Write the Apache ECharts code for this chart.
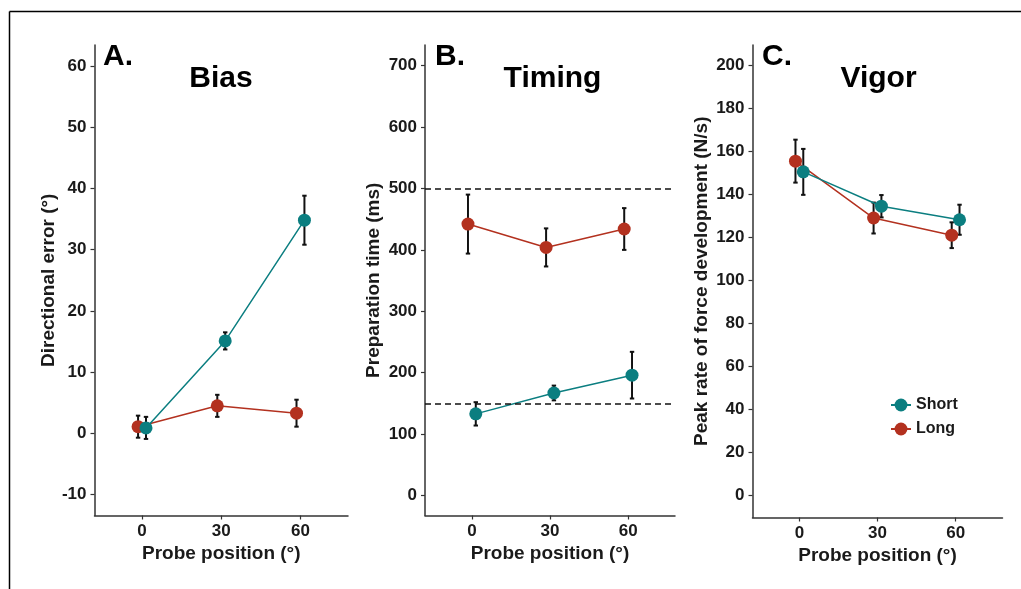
<!DOCTYPE html>
<html>
<head>
<meta charset="utf-8">
<script src="https://cdn.jsdelivr.net/npm/echarts@6/dist/echarts.min.js"></script>
<style>
html,body{margin:0;padding:0;background:#fff;}
#chart{width:1021px;height:589px;}
</style>
</head>
<body>
<div id="chart"></div>
<script>
// ---- data ----
const positions = [0, 30, 60];
const xTicks = [0, 30, 60];
const groups = ['Short', 'Long'];

const biasShort = [0.9, 15.1, 34.8];
const biasShortErr = [1.8, 1.4, 4.0];
const biasLong = [1.1, 4.5, 3.3];
const biasLongErr = [1.8, 1.8, 2.2];

const timingShort = [133, 167, 196];
const timingShortErr = [19, 12, 38];
const timingLong = [442, 404, 434];
const timingLongErr = [48, 31, 34];
const timingRefLines = [500, 150];

const vigorShort = [150.5, 134.5, 128.2];
const vigorShortErr = [10.7, 5.2, 7.0];
const vigorLong = [155.5, 129.0, 121.0];
const vigorLongErr = [10.0, 7.2, 6.0];

const biasTicks = [-10, 0, 10, 20, 30, 40, 50, 60];
const timingTicks = [0, 100, 200, 300, 400, 500, 600, 700];
const vigorTicks = [0, 20, 40, 60, 80, 100, 120, 140, 160, 180, 200];

const panelLetters = ['A.', 'B.', 'C.'];
const panelTitles = ['Bias', 'Timing', 'Vigor'];
const yNames = ['Directional error (°)', 'Preparation time (ms)', 'Peak rate of force development (N/s)'];
const xName = 'Probe position (°)';

// ---- styles ----
const COL = { Short: '#0b7e80', Long: '#b3311f' };
const DODGE = { Short: 1.5, Long: -1.5 };
const FONT = '"Liberation Sans", Arial, Helvetica, sans-serif';
const TXT = '#1a1a1a';
const AX = '#333333';

const panels = [
  { short: biasShort, shortErr: biasShortErr, long: biasLong, longErr: biasLongErr,
    ticks: biasTicks, min: -13.4, max: 63.4, left: 94.5, width: 253.5, bottom: 515.5, nameGap: 36 },
  { short: timingShort, shortErr: timingShortErr, long: timingLong, longErr: timingLongErr,
    ticks: timingTicks, min: -32.5, max: 733.6, left: 425, width: 250, bottom: 515.5, nameGap: 42 },
  { short: vigorShort, shortErr: vigorShortErr, long: vigorLong, longErr: vigorLongErr,
    ticks: vigorTicks, min: -10.5, max: 209.6, left: 752.5, width: 250, bottom: 517.5, nameGap: 41 }
];
const GRID_TOP = 45;

const grids = [], xAxes = [], yAxes = [], series = [];

function errorBarSeries(idx, name, vals, errs) {
  return {
    type: 'custom',
    name: name + 'Err' + idx,
    xAxisIndex: idx, yAxisIndex: idx,
    z: 2,
    silent: true,
    data: positions.map((p, i) => [p + DODGE[name], vals[i] - errs[i], vals[i] + errs[i]]),
    encode: { x: 0, y: [1, 2] },
    renderItem: function (params, api) {
      const x = api.value(0);
      const lo = api.coord([x, api.value(1)]);
      const hi = api.coord([x, api.value(2)]);
      const cw = 2.2;
      const st = { stroke: '#111', lineWidth: 2 };
      return {
        type: 'group',
        children: [
          { type: 'line', shape: { x1: lo[0], y1: lo[1], x2: hi[0], y2: hi[1] }, style: st },
          { type: 'line', shape: { x1: lo[0] - cw, y1: lo[1], x2: lo[0] + cw, y2: lo[1] }, style: st },
          { type: 'line', shape: { x1: hi[0] - cw, y1: hi[1], x2: hi[0] + cw, y2: hi[1] }, style: st }
        ]
      };
    }
  };
}

function lineSeries(idx, name, vals, z) {
  return {
    type: 'line',
    name: name,
    xAxisIndex: idx, yAxisIndex: idx,
    z: z,
    data: positions.map((p, i) => [p + DODGE[name], vals[i]]),
    symbol: 'circle',
    symbolSize: 13,
    color: COL[name],
    itemStyle: { color: COL[name] },
    lineStyle: { color: COL[name], width: 1.5 },
    emphasis: { disabled: true }
  };
}

panels.forEach((pn, idx) => {
  grids.push({
    left: pn.left, top: GRID_TOP, width: pn.width, height: pn.bottom - GRID_TOP,
    containLabel: false
  });
  xAxes.push({
    type: 'value', gridIndex: idx, min: -18, max: 78,
    splitLine: { show: false },
    axisLine: { onZero: false, lineStyle: { color: AX, width: 1.5 } },
    axisTick: { show: true, length: 4, lineStyle: { color: AX, width: 1.2 }, customValues: xTicks },
    axisLabel: { customValues: xTicks, margin: 7, color: TXT, fontFamily: FONT, fontWeight: 'bold', fontSize: 17 },
    name: xName, nameLocation: 'middle', nameGap: 26,
    nameTextStyle: { color: TXT, fontFamily: FONT, fontWeight: 'bold', fontSize: 19 }
  });
  yAxes.push({
    type: 'value', gridIndex: idx, min: pn.min, max: pn.max,
    splitLine: { show: false },
    axisLine: { show: true, onZero: false, lineStyle: { color: AX, width: 1.5 } },
    axisTick: { show: true, length: 4, lineStyle: { color: AX, width: 1.2 }, customValues: pn.ticks },
    axisLabel: { customValues: pn.ticks, margin: 8, color: TXT, fontFamily: FONT, fontWeight: 'bold', fontSize: 17 },
    name: yNames[idx], nameLocation: 'middle', nameGap: pn.nameGap,
    nameTextStyle: { color: TXT, fontFamily: FONT, fontWeight: 'bold', fontSize: 19 }
  });
  series.push(errorBarSeries(idx, 'Long', pn.long, pn.longErr));
  series.push(errorBarSeries(idx, 'Short', pn.short, pn.shortErr));
  series.push(lineSeries(idx, 'Long', pn.long, 3));
  series.push(lineSeries(idx, 'Short', pn.short, 4));
});

// dashed reference lines on timing panel
series.push({
  type: 'line', name: 'ref', xAxisIndex: 1, yAxisIndex: 1, data: [], z: 1,
  markLine: {
    silent: true, symbol: 'none', animation: false,
    label: { show: false },
    lineStyle: { color: '#111', width: 1.5, type: [6, 4] },
    data: timingRefLines.map(v => ({ yAxis: v }))
  }
});

// panel titles
const letterX = [103, 435, 762];
const titleX = [221, 552.5, 878.5];
const graphics = [
  { type: 'line', shape: { x1: 9.5, y1: 11.5, x2: 1030, y2: 11.5 }, style: { stroke: '#000', lineWidth: 1.5 } },
  { type: 'line', shape: { x1: 9.5, y1: 11.5, x2: 9.5, y2: 600 }, style: { stroke: '#000', lineWidth: 1.5 } }
];
panelLetters.forEach((t, i) => {
  graphics.push({ type: 'text', x: letterX[i], y: 56.7,
    style: { text: t, font: 'bold 30px ' + FONT, fill: '#000', textAlign: 'left', textVerticalAlign: 'middle' } });
  graphics.push({ type: 'text', x: titleX[i], y: 78.7,
    style: { text: panelTitles[i], font: 'bold 30px ' + FONT, fill: '#000', textAlign: 'center', textVerticalAlign: 'middle' } });
});

const chart = echarts.init(document.getElementById('chart'), null, { renderer: 'canvas' });
chart.setOption({
  animation: false,
  backgroundColor: '#fff',
  grid: grids,
  xAxis: xAxes,
  yAxis: yAxes,
  legend: {
    data: groups, orient: 'vertical', left: 885, top: 392,
    itemWidth: 20, itemHeight: 16, itemGap: 8,
    textStyle: { color: TXT, fontFamily: FONT, fontWeight: 'bold', fontSize: 16 },
    selectedMode: false
  },
  series: series,
  graphic: graphics
});
</script>
</body>
</html>
